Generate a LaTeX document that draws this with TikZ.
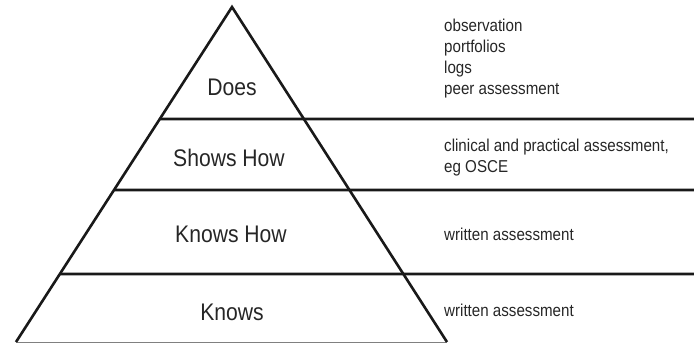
\documentclass[tikz,border=0pt]{standalone}
\usepackage{fontspec}
\setmainfont[FakeStretch=0.88]{Liberation Sans}
\usetikzlibrary{calc}
\tikzset{level node/.style={anchor=base,inner sep=0pt,text=black!85,
            font=\fontsize{24}{28}\selectfont},
         method node/.style={anchor=base west,align=left,inner sep=0pt,text=black!85,
            font=\fontsize{17.2}{21}\selectfont},
         tier line/.style={line width=2.6pt,black!90},
            }

\begin{document}
\begin{tikzpicture}[x=1pt,y=-1pt]
    \useasboundingbox (0,0) rectangle (694,343);
    \coordinate (apex) at (232,7);
    \coordinate (bl) at (16,342);
    \coordinate (br) at (447,342);

    % base and sides
    \draw[gray,line width=1pt] (bl) -- (br);
    \draw[tier line,line join=miter] (bl) -- (apex) -- (br);

    % tiers
    \coordinate (t1) at ($(apex)!{112/335}!(bl)$);
    \coordinate (t2) at ($(apex)!{183/335}!(bl)$);
    \coordinate (t3) at ($(apex)!{267/335}!(bl)$);
    \draw[tier line] (t1) -- (694,119);
    \draw[tier line] (t2) -- (694,190);
    \draw[tier line] (t3) -- (694,274);

    \node[level node] (does) at (232,95) {Does};
    \node[level node] (shows) at (229,166) {Shows How};
    \node[level node] (knowshow) at (231,242) {Knows How};
    \node[level node] (knows) at (232,320) {Knows};

    % base of a multi-line node is its last line
    \node[method node] (m1) at (444,94) {observation\\portfolios\\logs\\peer assessment};
    \node[method node] (m2) at (444,172) {clinical and practical assessment,\\eg OSCE};
    \node[method node] (m3) at (444,240) {written assessment};
    \node[method node] (m4) at (444,316) {written assessment};
    %%

\end{tikzpicture}
\end{document}
